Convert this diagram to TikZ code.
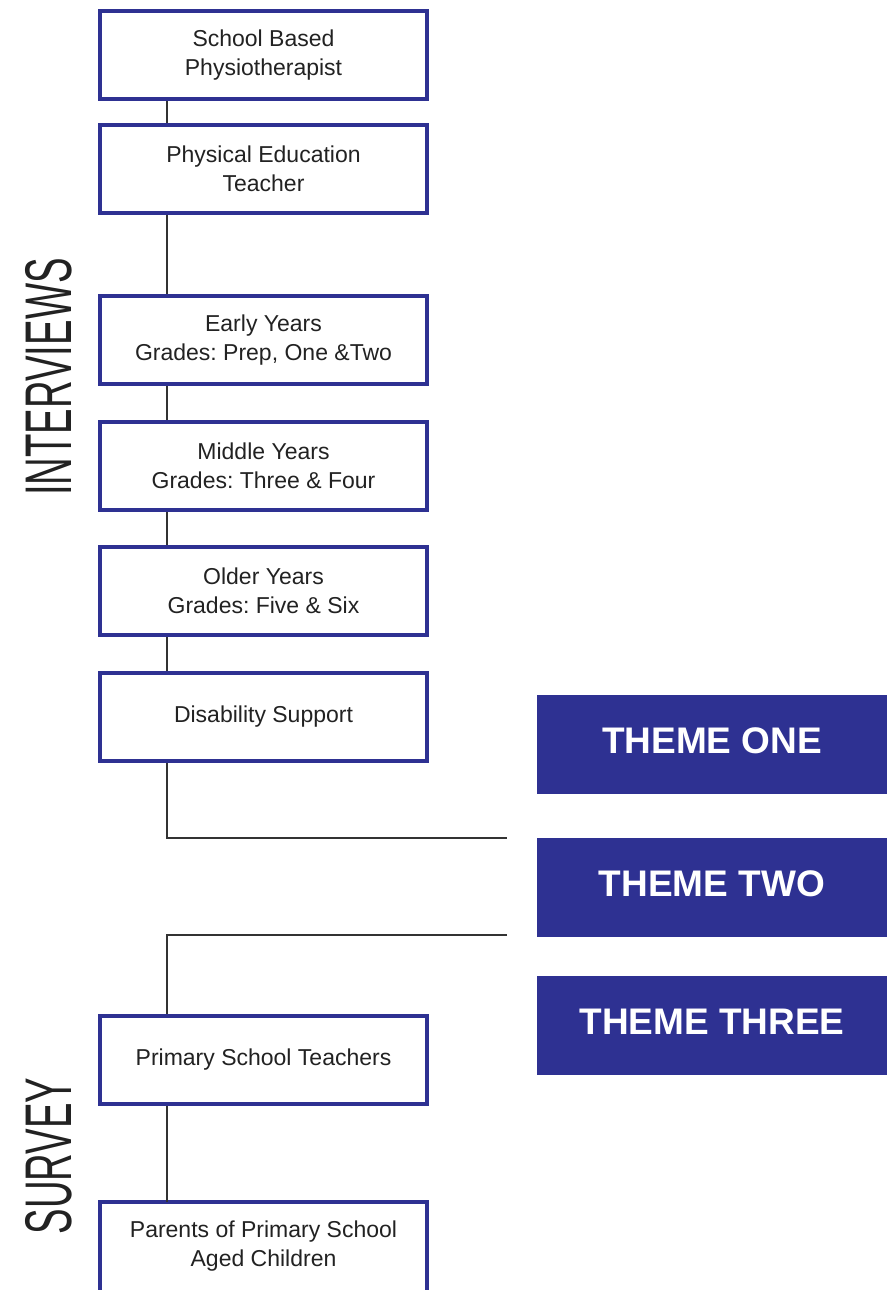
\documentclass[tikz,border=0pt]{standalone}
\usepackage{fontspec}
\setmainfont{Liberation Sans}
\newfontfamily\narrowfont[FakeStretch=0.58]{Liberation Sans}
\definecolor{themeblue}{HTML}{2E3192}
\definecolor{inkgrey}{HTML}{222222}
\frenchspacing

\begin{document}
\begin{tikzpicture}[x=1pt,y=-1pt,
  frame/.style={draw=themeblue, line width=4pt},
  group/.style={frame, fill=white,
    minimum width=327pt, minimum height=88pt, inner sep=0pt,
    align=center, text=inkgrey, font=\fontsize{23}{29}\selectfont},
  theme/.style={fill=themeblue, minimum width=350pt, minimum height=99pt,
    inner sep=0pt, text height=27pt, text depth=9pt, text=white,
    font=\fontsize{37}{44}\selectfont\bfseries},
  link/.style={draw=black!80, line width=1.5pt},
  section/.style={rotate=90, inner sep=0pt, text=inkgrey,
    font=\narrowfont\fontsize{66}{70}\selectfont}]

\useasboundingbox (0,0) rectangle (894,1290);
\clip (0,0) rectangle (894,1290);

% spine of the chart
\coordinate (spine) at (167,0);

% interview groups
\node[group] (b1) at (263.5,55)    {School Based\\Physiotherapist};
\node[group] (b2) at (263.5,168.5) {Physical Education\\Teacher};
\node[group] (b3) at (263.5,340)   {Early Years\\Grades: Prep, One \&Two};
\node[group] (b4) at (263.5,466)   {Middle Years\\Grades: Three \& Four};
\node[group] (b5) at (263.5,591)   {Older Years\\Grades: Five \& Six};
\node[group] (b6) at (263.5,716.5) {Disability Support};

% survey groups (the last frame runs on past the lower edge)
\node[group] (b7) at (263.5,1060)  {Primary School Teachers};
\node[group, draw=none, outer sep=0pt] (b8) at (263.5,1246)
  {Parents of Primary School\\Aged Children};
\draw[frame] (b8.north west) rectangle ([yshift=-30pt]b8.south east);

% themes
\node[theme] (t1) at (712,744.5) {THEME ONE};
\node[theme] (t2) at (712,887)   {THEME TWO};
\node[theme] (t3) at (712,1025)  {THEME THREE};

% section labels
\node[section] (lint) at (48.5,377)  {INTERVIEWS};
\node[section] (lsur) at (48.5,1156) {SURVEY};

% connector ends
\coordinate (outA) at (507,838);
\coordinate (inB)  at (507,935);

% connectors
\draw[link] (b1.south -| spine) -- (b2.north -| spine);
\draw[link] (b2.south -| spine) -- (b3.north -| spine);
\draw[link] (b3.south -| spine) -- (b4.north -| spine);
\draw[link] (b4.south -| spine) -- (b5.north -| spine);
\draw[link] (b5.south -| spine) -- (b6.north -| spine);
\draw[link] (b6.south -| spine) |- (outA);
\draw[link] (inB) -| (b7.north -| spine);
\draw[link] (b7.south -| spine) -- (b8.north -| spine);
\end{tikzpicture}
\end{document}
